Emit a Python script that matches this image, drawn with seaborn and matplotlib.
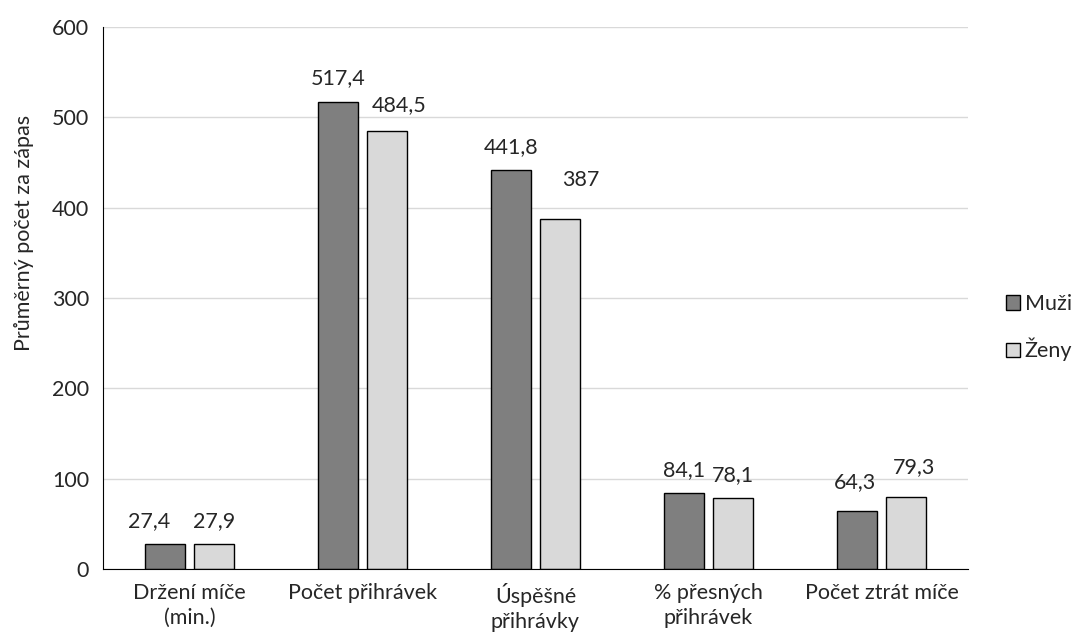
import matplotlib.pyplot as plt
import pandas as pd
import seaborn as sns

categories = [
    "Držení míče\n(min.)",
    "Počet přihrávek",
    "Úspěšné\npřihrávky",
    "% přesných\npřihrávek",
    "Počet ztrát míče",
]
muzi = [27.4, 517.4, 441.8, 84.1, 64.3]
zeny = [27.9, 484.5, 387, 78.1, 79.3]
groups = ["Muži", "Ženy"]
yticks = [0, 100, 200, 300, 400, 500, 600]

# manual label nudges (pixels) like in the original, per series
nudges = [
    [(-16, 0), (0, 0), (0, 0), (0, 0), (-2, 6)],
    [(0, 0), (12, 3), (21, 16), (0, 0), (8, 7)],
]


def fmt(v):
    s = f"{v:.1f}".replace(".", ",")
    return s[:-2] if s.endswith(",0") else s


df = pd.DataFrame({
    "category": categories * 2,
    "group": [groups[0]] * len(categories) + [groups[1]] * len(categories),
    "value": muzi + zeny,
})

sns.set_style("white")
plt.rcParams["font.family"] = ["Lato", "DejaVu Sans"]
fs = 15.5

fig = plt.figure(figsize=(10.82, 6.41), dpi=100)
ax = fig.add_axes([0.0952, 0.1123, 0.7994, 0.8457])

sns.barplot(
    data=df, x="category", y="value", hue="group",
    palette=["#7f7f7f", "#d9d9d9"], edgecolor="black", linewidth=1,
    width=0.566, gap=0.2, ax=ax, errorbar=None,
)

for cont, nud in zip(ax.containers, nudges):
    for bar, (dx, dy) in zip(cont, nud):
        h = bar.get_height()
        ax.annotate(fmt(h), (bar.get_x() + bar.get_width() / 2, h),
                    xytext=(dx, 23 + dy), textcoords="offset pixels",
                    ha="center", va="center", fontsize=fs)

ax.set_ylim(0, 600)
ax.set_yticks(yticks)
ax.yaxis.grid(True, color="#d9d9d9", linewidth=1)
ax.set_axisbelow(True)
for s in ["top", "right"]:
    ax.spines[s].set_visible(False)
ax.spines["left"].set_color("black")
ax.spines["bottom"].set_color("black")
ax.tick_params(axis="both", length=0, labelsize=fs, pad=10)
for lab in ax.get_xticklabels():
    lab.set_linespacing(1.3)
ax.set_xlabel("")
ax.set_ylabel("Průměrný počet za zápas", fontsize=fs)
ax.yaxis.set_label_coords(-0.08, 0.62)

ax.legend(loc="center left", bbox_to_anchor=(1.022, 0.445), frameon=False,
          fontsize=fs, handlelength=0.65, handleheight=0.65,
          handletextpad=0.2, labelspacing=1.1)

fig.savefig("out.png", dpi=100)
